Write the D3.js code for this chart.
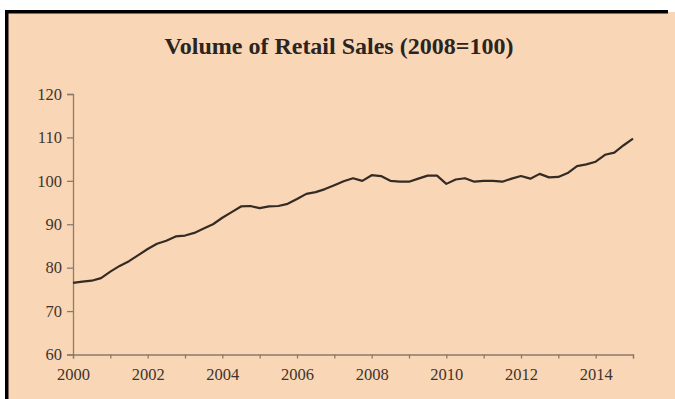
<!DOCTYPE html>
<html>
<head>
<meta charset="utf-8">
<script src="https://cdn.jsdelivr.net/npm/d3@7"></script>
<style>
  html, body { margin: 0; padding: 0; background: #ffffff; }
  svg { display: block; }
</style>
</head>
<body>
<svg id="chart" width="675" height="399"></svg>
<script>
// Volume of retail sales, quarterly index (2008 = 100), 2000 Q1 to 2015 Q1
const startYear = 2000;
const volume = [
  76.5, 76.8, 77.0, 77.6, 79.1, 80.4, 81.5, 82.9,
  84.3, 85.5, 86.2, 87.2, 87.4, 88.0, 89.0, 90.0,
  91.5, 92.8, 94.1, 94.2, 93.7, 94.1, 94.2, 94.7,
  95.8, 97.0, 97.4, 98.1, 99.0, 99.9, 100.6, 100.0,
  101.3, 101.1, 100.0, 99.8, 99.8, 100.5, 101.2, 101.2,
  99.3, 100.3, 100.6, 99.8, 100.0, 100.0, 99.8, 100.5,
  101.1, 100.5, 101.6, 100.8, 100.9, 101.8, 103.4, 103.8,
  104.4, 106.0, 106.5, 108.2, 109.7
];
const yTicks = [60, 70, 80, 90, 100, 110, 120];
const xLabelYears = [2000, 2002, 2004, 2006, 2008, 2010, 2012, 2014];
const xTickYears = d3.range(2000, 2016);
const title = "Volume of Retail Sales (2008=100)";

const svg = d3.select("#chart");
const W = 675, H = 399;
const panel = "#f9d7b6";
const ink = "#3f342c";
const axisCol = "#8b7b6c";
const serif = "'Liberation Serif', 'Times New Roman', serif";

// panel background and frame
svg.append("rect").attr("x", 6).attr("y", 12).attr("width", W - 6).attr("height", H - 12).attr("fill", panel);
svg.append("rect").attr("x", 5).attr("y", 10).attr("width", 663).attr("height", 3.5).attr("fill", "#000");
svg.append("rect").attr("x", 5).attr("y", 10).attr("width", 3.5).attr("height", H - 10).attr("fill", "#000");

svg.append("text")
  .attr("x", 339).attr("y", 54)
  .attr("text-anchor", "middle")
  .attr("font-family", serif)
  .attr("font-weight", "bold")
  .attr("font-size", 24)
  .attr("fill", "#2b2420")
  .text(title);

const x = d3.scaleLinear().domain([2000, 2015]).range([73, 633]);
const y = d3.scaleLinear().domain([60, 120]).range([354.5, 94]);

// y axis
const yAxis = svg.append("g")
  .attr("transform", `translate(${x(2000)},0)`)
  .call(d3.axisLeft(y).tickValues(yTicks).tickSize(6).tickPadding(5).tickFormat(d3.format("d")));
// x axis
const xAxis = svg.append("g")
  .attr("transform", `translate(0,${y(60)})`)
  .call(d3.axisBottom(x).tickValues(xTickYears).tickSize(4).tickPadding(10)
    .tickFormat(d => xLabelYears.includes(d) ? String(d) : ""));

[yAxis, xAxis].forEach(g => {
  g.select(".domain").attr("stroke", axisCol).attr("stroke-width", 1.3);
  g.selectAll(".tick line").attr("stroke", axisCol).attr("stroke-width", 1.3);
  g.selectAll(".tick text")
    .attr("font-family", serif)
    .attr("font-size", 16.5)
    .attr("fill", ink);
});

// series line
const line = d3.line()
  .x((d, i) => x(startYear + i / 4))
  .y(d => y(d));

svg.append("path")
  .datum(volume)
  .attr("d", line)
  .attr("fill", "none")
  .attr("stroke", "#352b25")
  .attr("stroke-width", 2.2)
  .attr("stroke-linejoin", "round");
</script>
</body>
</html>
